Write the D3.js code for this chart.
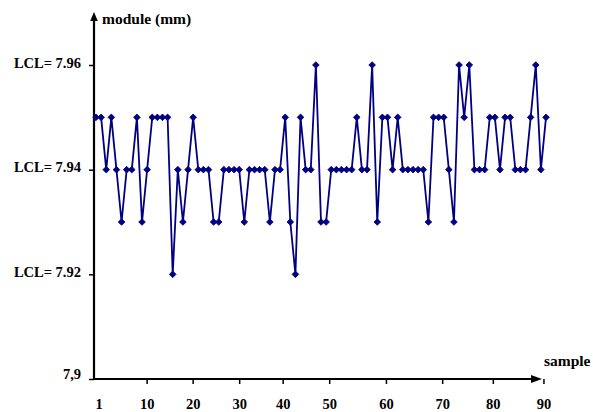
<!DOCTYPE html>
<html>
<head>
<meta charset="utf-8">
<script src="https://cdn.jsdelivr.net/npm/d3@7"></script>
<style>
  body { margin: 0; background: #fff; }
  text { font-family: "Liberation Serif", "Times New Roman", serif; font-weight: bold; fill: #000; }
</style>
</head>
<body>
<svg id="chart" width="593" height="412"></svg>
<script>
// module readings (mm), one per sample
const moduleValues = [
  7.95, 7.95, 7.94, 7.95, 7.94, 7.93, 7.94, 7.94, 7.95, 7.93, 7.94, 7.95, 7.95, 7.95, 7.95, 7.92, 7.94, 7.93,
  7.94, 7.95, 7.94, 7.94, 7.94, 7.93, 7.93, 7.94, 7.94, 7.94, 7.94, 7.93, 7.94, 7.94, 7.94, 7.94, 7.93,
  7.94, 7.94, 7.95, 7.93, 7.92, 7.95, 7.94, 7.94, 7.96, 7.93, 7.93, 7.94, 7.94, 7.94, 7.94, 7.94, 7.95, 7.94,
  7.94, 7.96, 7.93, 7.95, 7.95, 7.94, 7.95, 7.94, 7.94, 7.94, 7.94, 7.94, 7.93, 7.95, 7.95, 7.95, 7.94, 7.93,
  7.96, 7.95, 7.96, 7.94, 7.94, 7.94, 7.95, 7.95, 7.94, 7.95, 7.95, 7.94, 7.94, 7.94, 7.95, 7.96, 7.94, 7.95
];

// y tick values and their labels
const yTicks = [7.9, 7.92, 7.94, 7.96];
const yTickLabels = ["7,9", "LCL= 7.92", "LCL= 7.94", "LCL= 7.96"];

// x tick labels and where they sit on the sample axis (as drawn in the picture)
const xTickLabels = ["1", "10", "20", "30", "40", "50", "60", "70", "80", "90"];
const xTickAt = [1.5, 10.9, 19.9, 29, 37.5, 46.6, 57.7, 68.7, 78.6, 88.5];

const svg = d3.select("#chart");
const navy = "#000080";

const x = d3.scaleLinear().domain([1, moduleValues.length]).range([96, 546]);
const y = d3.scaleLinear().domain([7.9, 7.96]).range([379, 65]);

const originX = 94, originY = y(7.9);

// y axis ticks + labels
const yAxis = svg.append("g")
  .attr("transform", `translate(${originX},0)`)
  .call(d3.axisLeft(y)
    .tickValues(yTicks)
    .tickFormat((d, i) => yTickLabels[i])
    .tickSize(5)
    .tickPadding(8));
yAxis.select(".domain").remove();
yAxis.selectAll(".tick line").attr("stroke", "#000").attr("stroke-width", 1.5);
yAxis.selectAll(".tick text")
  .attr("font-size", 14.5)
  .attr("dy", (d) => d === 7.9 ? "-0.05em" : "0.15em");

// x axis ticks + labels
const xAxis = svg.append("g")
  .attr("transform", `translate(0,${originY})`)
  .call(d3.axisBottom(x)
    .tickValues(xTickAt)
    .tickFormat((d, i) => xTickLabels[i])
    .tickSize(5)
    .tickPadding(15));
xAxis.select(".domain").remove();
xAxis.selectAll(".tick line").attr("stroke", "#000").attr("stroke-width", 1.5)
  .attr("opacity", (d, i) => i === 0 ? 0 : 1);
xAxis.selectAll(".tick text").attr("font-size", 14.5);

// axis lines with arrowheads
svg.append("line")
  .attr("x1", originX).attr("y1", originY + 1)
  .attr("x2", originX).attr("y2", 18)
  .attr("stroke", "#000").attr("stroke-width", 2.2);
svg.append("path")
  .attr("d", `M${originX},12 L${originX + 3.8},21 L${originX - 3.8},21 Z`)
  .attr("fill", "#000");

svg.append("line")
  .attr("x1", originX - 1).attr("y1", originY)
  .attr("x2", 536).attr("y2", originY)
  .attr("stroke", "#000").attr("stroke-width", 2.2);
svg.append("path")
  .attr("d", `M542,${originY} L531,${originY - 4} L531,${originY + 4} Z`)
  .attr("fill", "#000");

// axis titles
svg.append("text")
  .attr("x", 102).attr("y", 24)
  .attr("font-size", 15.5)
  .text("module (mm)");
svg.append("text")
  .attr("x", 544).attr("y", 366)
  .attr("font-size", 15.5)
  .text("sample");

// data line
const line = d3.line()
  .x((d, i) => x(i + 1))
  .y(d => y(d));

svg.append("path")
  .datum(moduleValues)
  .attr("d", line)
  .attr("fill", "none")
  .attr("stroke", navy)
  .attr("stroke-width", 1.8);

// diamond markers
svg.selectAll("path.marker")
  .data(moduleValues)
  .enter()
  .append("path")
  .attr("class", "marker")
  .attr("d", d3.symbol().type(d3.symbolSquare).size(22))
  .attr("transform", (d, i) => `translate(${x(i + 1)},${y(d)}) rotate(45)`)
  .attr("fill", navy)
  .attr("stroke", navy)
  .attr("stroke-width", 0.8);
</script>
</body>
</html>
